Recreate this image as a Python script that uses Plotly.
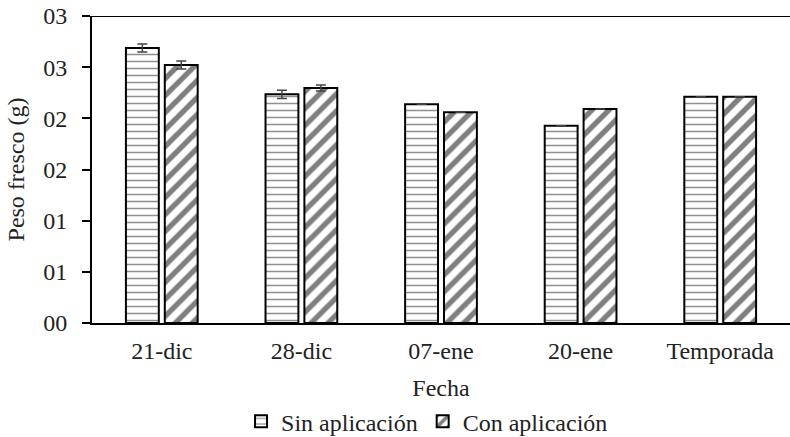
import plotly.graph_objects as go

fechas = ["21-dic", "28-dic", "07-ene", "20-ene", "Temporada"]
sin_aplicacion = [0.2687, 0.2235, 0.2137, 0.1928, 0.2211]
con_aplicacion = [0.2521, 0.2296, 0.2059, 0.2091, 0.2211]
sin_error = [0.004, 0.004, 0, 0, 0]
con_error = [0.004, 0.003, 0, 0, 0]
y_tickvals = [0, 0.05, 0.10, 0.15, 0.20, 0.25, 0.30]
y_ticktext = ["00", "01", "01", "02", "02", "03", "03"]

FONT = "Liberation Serif, Times New Roman, serif"
FS = 24

fig = go.Figure()
fig.add_trace(go.Bar(
    name="Sin aplicación", x=fechas, y=sin_aplicacion,
    error_y=dict(type="data", array=sin_error, color="#444", thickness=1.5, width=5),
    marker=dict(color="white", line=dict(color="black", width=2),
                pattern=dict(shape="-", fgcolor="#222", bgcolor="white", size=7, solidity=0.22)),
))
fig.add_trace(go.Bar(
    name="Con aplicación", x=fechas, y=con_aplicacion,
    error_y=dict(type="data", array=con_error, color="#444", thickness=1.5, width=5),
    marker=dict(color="white", line=dict(color="black", width=2),
                pattern=dict(shape="/", fgcolor="black", bgcolor="white", size=12, solidity=0.45)),
))

fig.add_shape(type="line", xref="paper", yref="y", x0=-0.012, x1=1, y0=0.30, y1=0.30,
              line=dict(color="black", width=2))

fig.update_layout(
    width=790, height=437,
    margin=dict(l=92, r=0, t=16, b=114, autoexpand=False),
    paper_bgcolor="white", plot_bgcolor="white",
    font=dict(family=FONT, size=FS, color="#222"),
    barmode="group", bargap=0.443, bargroupgap=0.154,
    showlegend=True,
    legend=dict(orientation="h", x=0.48, xanchor="center", y=-0.248, yanchor="top",
                font=dict(family=FONT, size=FS), tracegroupgap=0),
    xaxis=dict(showline=True, linecolor="black", linewidth=2, ticks="",
               showgrid=False, tickfont=dict(family=FONT, size=FS), automargin=False,
               ticklabelstandoff=5,
               title=dict(text="Fecha", font=dict(family=FONT, size=FS), standoff=16)),
    yaxis=dict(range=[0, 0.30], tickvals=y_tickvals, ticktext=y_ticktext,
               showline=True, linecolor="black", linewidth=2, ticks="outside",
               ticklen=8, tickwidth=2, tickcolor="black", showgrid=False, zeroline=False,
               tickfont=dict(family=FONT, size=FS), ticklabelstandoff=10, automargin=False,
               title=dict(text="Peso fresco (g)", font=dict(family=FONT, size=FS), standoff=12)),
)

fig.write_html("out.html", config={"displayModeBar": False},
               post_script="document.body.style.margin='0';")
